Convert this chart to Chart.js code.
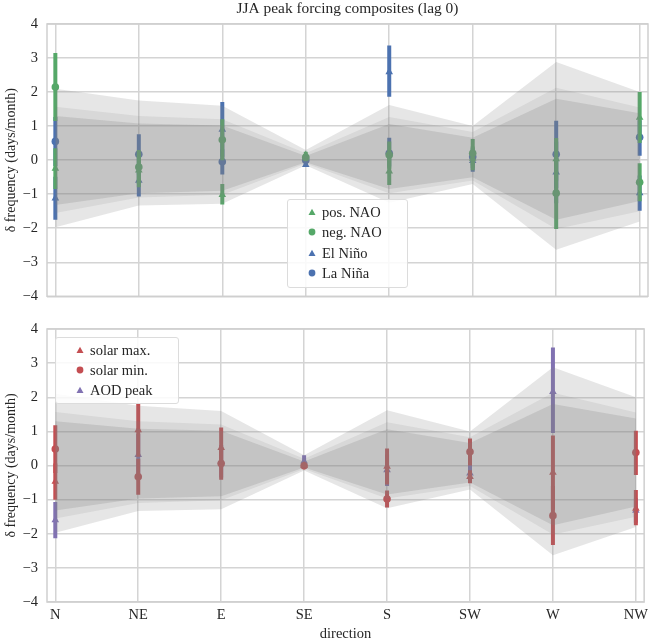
<!DOCTYPE html>
<html>
<head>
<meta charset="utf-8">
<script src="https://cdn.jsdelivr.net/npm/chart.js@4.4.0/dist/chart.umd.min.js"></script>
<style>
body { margin: 0; background: #fff; overflow: hidden; }
#wrap { position: relative; width: 652px; height: 639px; overflow: hidden; font-family: "Liberation Serif", "DejaVu Serif", serif; }
canvas { position: absolute; left: 0; }
.legend { position: absolute; background: rgba(255,255,255,0.85); border: 1px solid #dcdcdc; border-radius: 3px; box-sizing: border-box; }
.legend .txt { position: absolute; font-size: 14.5px; line-height: 16px; color: #262626; white-space: nowrap; }
.legend svg { position: absolute; }
</style>
</head>
<body>
<div id="wrap">
  <canvas id="top" width="652" height="314" style="top:0px"></canvas>
  <canvas id="bottom" width="652" height="343" style="top:300px"></canvas>
  <div id="legTop" class="legend" style="left:287px;top:199px;width:121px;height:89px"></div>
  <div id="legBottom" class="legend" style="left:55px;top:337px;width:124px;height:67px"></div>
</div>
<script>
const directions = ['N', 'NE', 'E', 'SE', 'S', 'SW', 'W', 'NW'];
const yTicks = [-4, -3, -2, -1, 0, 1, 2, 3, 4];

// background spread bands (same in both panels)
const outerHi = [2.1, 1.75, 1.6, 0.3, 1.62, 1.0, 2.88, 2.0];
const outerLo = [-1.97, -1.33, -1.28, -0.15, -1.25, -0.7, -2.63, -1.8];
const midHi = [1.57, 1.3, 1.2, 0.2, 1.27, 0.83, 2.13, 1.55];
const midLo = [-1.55, -1.1, -1.02, -0.1, -0.97, -0.6, -2.02, -1.5];
const innerHi = [1.3, 1.08, 1.02, 0.12, 1.06, 0.66, 1.8, 1.38];
const innerLo = [-1.32, -0.97, -0.9, -0.06, -0.85, -0.5, -1.75, -1.2];

// top panel
const posNAO = [-0.25, -0.3, -1.02, 0.15, -0.33, 0.05, 0.03, 1.25];
const posNAOLo = [-0.85, -0.8, -1.3, 0.05, -0.73, -0.3, -0.6, 0.5];
const posNAOHi = [0.35, 0.2, -0.7, 0.25, 0.07, 0.4, 0.65, 2.0];
const negNAO = [2.15, -0.2, 0.6, 0.08, 0.15, 0.2, -0.97, -0.65];
const negNAOLo = [1.15, -0.7, 0.0, -0.02, -0.25, -0.22, -2.02, -1.21];
const negNAOHi = [3.15, 0.3, 1.2, 0.18, 0.55, 0.62, 0.08, -0.09];
const elNino = [-1.12, -0.6, 0.9, -0.14, 2.59, -0.02, -0.36, -0.97];
const elNinoLo = [-1.75, -1.07, 0.1, -0.2, 1.86, -0.34, -1.27, -1.49];
const elNinoHi = [-0.49, -0.13, 1.71, -0.08, 3.37, 0.3, 0.55, -0.45];
const laNina = [0.55, 0.17, -0.05, 0.0, 0.2, 0.1, 0.17, 0.67];
const laNinaLo = [-0.17, -0.42, -0.42, -0.06, -0.19, -0.15, -0.82, 0.13];
const laNinaHi = [1.27, 0.76, 0.32, 0.06, 0.66, 0.35, 1.16, 1.17];

// bottom panel
const solarMax = [-0.47, 1.04, 0.52, 0.0, -0.03, -0.33, -0.21, -1.26];
const solarMaxLo = [-1.0, 0.26, -0.06, -0.05, -0.56, -0.52, -1.3, -1.75];
const solarMaxHi = [0.06, 1.82, 1.11, 0.05, 0.5, -0.14, 0.88, -0.72];
const solarMin = [0.48, -0.33, 0.06, -0.01, -0.98, 0.4, -1.47, 0.38];
const solarMinLo = [-0.22, -0.86, -0.42, -0.06, -1.23, 0.0, -2.33, -0.28];
const solarMinHi = [1.18, 0.2, 0.54, 0.04, -0.73, 0.79, -0.6, 1.02];
const aodPeak = [-1.6, 0.31, 0.12, 0.12, -0.13, -0.23, 2.16, -1.32];
const aodPeakLo = [-2.13, -0.3, -0.35, -0.05, -0.6, -0.5, 0.95, -1.68];
const aodPeakHi = [-1.07, 0.92, 0.6, 0.3, 0.33, 0.05, 3.46, -0.96];

const blue = '#4c72b0', green = '#55a868', red = '#c44e52', purple = '#8172b2';
const fontFam = "'Liberation Serif', 'DejaVu Serif', serif";
const txtCol = '#262626';

const topSeries = [
  { label: 'pos. NAO', val: posNAO, lo: posNAOLo, hi: posNAOHi, color: green, shape: 'triangle' },
  { label: 'neg. NAO', val: negNAO, lo: negNAOLo, hi: negNAOHi, color: green, shape: 'circle' },
  { label: 'El Niño', val: elNino, lo: elNinoLo, hi: elNinoHi, color: blue, shape: 'triangle' },
  { label: 'La Niña', val: laNina, lo: laNinaLo, hi: laNinaHi, color: blue, shape: 'circle' }
];
const bottomSeries = [
  { label: 'solar max.', val: solarMax, lo: solarMaxLo, hi: solarMaxHi, color: red, shape: 'triangle' },
  { label: 'solar min.', val: solarMin, lo: solarMinLo, hi: solarMinHi, color: red, shape: 'circle' },
  { label: 'AOD peak', val: aodPeak, lo: aodPeakLo, hi: aodPeakHi, color: purple, shape: 'triangle' }
];

function pts(vals) {
  return vals.map((v, i) => ({ x: i, y: v }));
}
function bars(lo, hi) {
  const d = [];
  lo.forEach((l, i) => { d.push({ x: i, y: l }, { x: i, y: hi[i] }, { x: i, y: null }); });
  return d;
}
function bandSets() {
  const fills = ['rgba(128,128,128,0.2)', 'rgba(128,128,128,0.14)', 'rgba(128,128,128,0.23)'];
  const sets = [];
  [[outerHi, outerLo], [midHi, midLo], [innerHi, innerLo]].forEach(([hi, lo], k) => {
    sets.push({ data: pts(hi), fill: '+1', backgroundColor: fills[k], borderColor: 'rgba(0,0,0,0)', borderWidth: 0, pointRadius: 0 });
    sets.push({ data: pts(lo), fill: false, borderColor: 'rgba(0,0,0,0)', borderWidth: 0, pointRadius: 0 });
  });
  return sets;
}
function seriesSets(list) {
  const sets = [];
  list.forEach(s => {
    sets.push({ data: bars(s.lo, s.hi), borderColor: s.color, borderWidth: 4, borderCapStyle: 'butt',
                pointRadius: 0, spanGaps: false, fill: false });
    sets.push({ data: pts(s.val), showLine: false, fill: false, pointStyle: s.shape,
                pointRadius: s.shape === 'circle' ? 3.8 : 4.4, backgroundColor: s.color, borderWidth: 0 });
  });
  return sets;
}

const frame = {
  id: 'frame',
  afterDatasetsDraw(chart) {
    const a = chart.chartArea, c = chart.ctx;
    c.save();
    c.strokeStyle = '#cfcfcf';
    c.lineWidth = 1.5;
    c.strokeRect(a.left, a.top, a.right - a.left, a.bottom - a.top);
    c.restore();
  }
};

function makeChart(id, series, o) {
  return new Chart(document.getElementById(id), {
    type: 'line',
    data: { datasets: bandSets().concat(seriesSets(series)) },
    options: {
      responsive: false,
      animation: false,
      devicePixelRatio: 1,
      layout: { padding: o.padding, autoPadding: false },
      elements: { line: { tension: 0 } },
      plugins: {
        legend: { display: false },
        tooltip: { enabled: false },
        title: o.title
      },
      scales: {
        x: {
          type: 'linear', min: -0.1, max: 7.1,
          afterBuildTicks: s => { s.ticks = directions.map((d, i) => ({ value: i })); },
          afterFit: s => { s.height = o.xHeight; },
          grid: { color: '#d4d4d4', lineWidth: 1.5, drawTicks: false },
          border: { display: false },
          ticks: { display: o.showX, autoSkip: false, maxRotation: 0, padding: 4,
                   color: txtCol, font: { family: fontFam, size: 14.5 },
                   callback: v => directions[v] },
          title: { display: o.showX, text: 'direction', color: txtCol,
                   font: { family: fontFam, size: 14.5 }, padding: { top: 0, bottom: 0 } }
        },
        y: {
          min: -4, max: 4,
          afterBuildTicks: s => { s.ticks = yTicks.map(v => ({ value: v })); },
          afterFit: s => { s.width = 47; },
          grid: { color: '#d4d4d4', lineWidth: 1.5, drawTicks: false },
          border: { display: false },
          ticks: { padding: 9, color: txtCol, font: { family: fontFam, size: 14.5 },
                   callback: v => (v < 0 ? '\u2212' + Math.abs(v) : '' + v) },
          title: { display: true, text: 'δ frequency (days/month)', color: txtCol,
                   font: { family: fontFam, size: 14 }, padding: { top: 3, bottom: 0 } }
        }
      }
    },
    plugins: [frame]
  });
}

makeChart('top', topSeries, {
  padding: { top: 0, right: 4, left: 0, bottom: 0 },
  xHeight: 5,
  showX: false,
  title: { display: true, text: 'JJA peak forcing composites (lag 0)', fullSize: false, color: txtCol,
           font: { family: fontFam, size: 15.4, weight: 'normal' }, padding: { top: 0, bottom: 5.5 } }
});
makeChart('bottom', bottomSeries, {
  padding: { top: 29, right: 4, left: 0, bottom: 0 },
  xHeight: 41,
  showX: true,
  title: { display: false }
});

function buildLegend(id, list, rowTop, rowStep) {
  const box = document.getElementById(id);
  const ns = 'http://www.w3.org/2000/svg';
  list.forEach((s, k) => {
    const cy = rowTop + rowStep * k;
    const svg = document.createElementNS(ns, 'svg');
    svg.setAttribute('width', '10');
    svg.setAttribute('height', '10');
    svg.style.left = (24 - 5) + 'px';
    svg.style.top = (cy - 5) + 'px';
    let m;
    if (s.shape === 'circle') {
      m = document.createElementNS(ns, 'circle');
      m.setAttribute('cx', '5'); m.setAttribute('cy', '5'); m.setAttribute('r', '3.4');
    } else {
      m = document.createElementNS(ns, 'polygon');
      m.setAttribute('points', '5,1.8 8.5,7.9 1.5,7.9');
    }
    m.setAttribute('fill', s.color);
    svg.appendChild(m);
    box.appendChild(svg);
    const t = document.createElement('div');
    t.className = 'txt';
    t.textContent = s.label;
    t.style.left = '34px';
    t.style.top = (cy - 8) + 'px';
    box.appendChild(t);
  });
}
buildLegend('legTop', topSeries, 11.5, 20.6);
buildLegend('legBottom', bottomSeries, 11.5, 20.3);
</script>
</body>
</html>
